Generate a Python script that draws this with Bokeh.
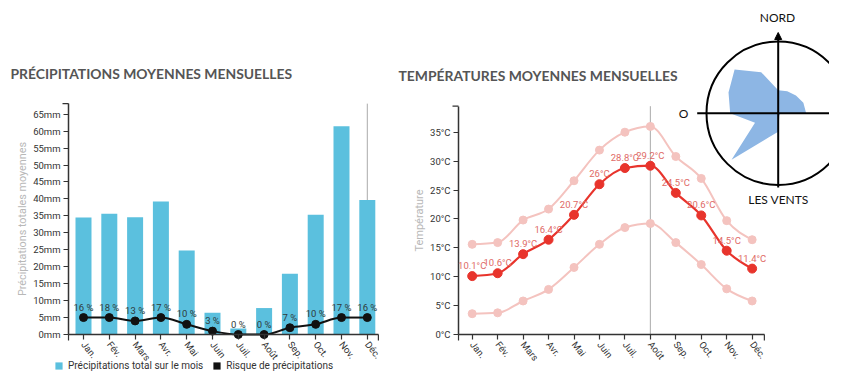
import math
from bokeh.plotting import figure
from bokeh.models import (Range1d, FixedTicker, ColumnDataSource, LabelSet, Label,
                          Legend, LegendItem, Arrow, NormalHead, LinearAxis)
from bokeh.embed import file_html
from bokeh.resources import INLINE
from bokeh.core.properties import value

# ---------------- data ----------------
months = ["Jan.", "Fév.", "Mars", "Avr.", "Mai", "Juin", "Juil.", "Août", "Sep.", "Oct.", "Nov.", "Déc."]
precip_mm = [34.5, 35.6, 34.6, 39.2, 24.8, 6.4, 1.8, 7.8, 17.9, 35.3, 61.4, 39.7]
risk_days = [5, 5, 4, 5, 3, 1, 0, 0, 2, 3, 5, 5]
risk_pct = [16, 18, 13, 17, 10, 3, 0, 0, 7, 10, 17, 16]
precip_ticks = [0, 5, 10, 15, 20, 25, 30, 35, 40, 45, 50, 55, 60, 65]

temp_mean = [10.1, 10.6, 13.9, 16.4, 20.7, 26.0, 28.8, 29.2, 24.5, 20.6, 14.5, 11.4]
temp_max = [15.6, 15.9, 19.8, 21.7, 26.6, 31.9, 35.0, 36.0, 30.8, 27.0, 19.7, 16.4]
temp_min = [3.6, 3.75, 5.8, 7.8, 11.6, 15.6, 18.5, 19.2, 15.9, 12.1, 7.9, 5.8]
temp_ticks = [0, 5, 10, 15, 20, 25, 30, 35]

wind_dirs = ["N", "NNE", "NE", "ENE", "E", "ESE", "SE", "SSE",
             "S", "SSW", "SW", "WSW", "W", "WNW", "NW", "NNW"]
wind_pct = [32, 33, 35, 38, 39, 3, 3, 4, 26, 37, 92, 35, 67, 75, 86, 62]

# ---------------- helpers ----------------
def monotone_bezier(xs, ys):
    """control points of d3.curveMonotoneX through the series points"""
    n = len(xs)
    h = [xs[i + 1] - xs[i] for i in range(n - 1)]
    s = [(ys[i + 1] - ys[i]) / h[i] for i in range(n - 1)]
    sgn = lambda v: -1 if v < 0 else 1
    t = [0.0] * n
    for i in range(1, n - 1):
        h0, h1, s0, s1 = h[i - 1], h[i], s[i - 1], s[i]
        p = (s0 * h1 + s1 * h0) / (h0 + h1)
        t[i] = (sgn(s0) + sgn(s1)) * min(abs(s0), abs(s1), 0.5 * abs(p))
    t[0] = (3 * s[0] - t[1]) / 2
    t[-1] = (3 * s[-1] - t[-2]) / 2
    d = dict(x0=[], y0=[], x1=[], y1=[], cx0=[], cy0=[], cx1=[], cy1=[])
    for i in range(n - 1):
        d["x0"].append(xs[i]); d["y0"].append(ys[i])
        d["x1"].append(xs[i + 1]); d["y1"].append(ys[i + 1])
        d["cx0"].append(xs[i] + h[i] / 3); d["cy0"].append(ys[i] + t[i] * h[i] / 3)
        d["cx1"].append(xs[i + 1] - h[i] / 3); d["cy1"].append(ys[i + 1] - t[i + 1] * h[i] / 3)
    return ColumnDataSource(d)

W, H = 829, 371
def xr(origin_px, px_per_unit):
    return Range1d((0 - origin_px) / px_per_unit, (W - origin_px) / px_per_unit)
def yr(origin_px, px_per_unit):
    return Range1d((origin_px - H) / px_per_unit, origin_px / px_per_unit)

idx = list(range(len(months)))
TICK_FONT = "Roboto"
TITLE_FONT = "Lato"
AX = "#333333"

p = figure(width=W, height=H, output_backend="svg", toolbar_location=None,
           x_range=Range1d(0, W), y_range=Range1d(H, 0),
           x_axis_location=None, y_axis_location=None,
           min_border=0, min_border_left=0, min_border_right=0,
           min_border_top=0, min_border_bottom=0)
p.outline_line_color = None
p.grid.visible = False

# scales (pixel origin, pixels per unit) of each chart
P_X0, P_XS, P_Y0, P_YS = 83, 25.8, 334, 3.39
T_X0, T_XS, T_Y0, T_YS = 471.7, 25.45, 334, 5.78
p.extra_x_ranges = {"prec_x": xr(P_X0, P_XS), "temp_x": xr(T_X0, T_XS)}
p.extra_y_ranges = {"prec_y": yr(P_Y0, P_YS), "temp_y": yr(T_Y0, T_YS)}
RK = 100 / 71.7      # wind rose: circle radius = 100 %
RCX, RCY = 777.7, 112.7
p.extra_x_ranges["rx"] = Range1d(-RCX * RK, (W - RCX) * RK)
p.extra_y_ranges["ry"] = Range1d(-(H - RCY) * RK, RCY * RK)

def make_axis(xn, yn, side, loc, bounds, ticks, labels, axis_label=None, label_size="10px"):
    ax = LinearAxis(x_range_name=xn, y_range_name=yn, fixed_location=loc, bounds=bounds,
                    ticker=FixedTicker(ticks=ticks),
                    major_label_overrides={t: l for t, l in zip(ticks, labels)})
    ax.axis_line_color = AX
    ax.axis_line_width = 1.5
    ax.major_tick_line_color = AX
    ax.major_tick_line_width = 1.2
    ax.major_tick_out = 5
    ax.major_tick_in = 0
    ax.minor_tick_line_color = None
    ax.major_label_text_font = TICK_FONT
    ax.major_label_text_font_size = "9.5px"
    ax.major_label_text_color = AX
    ax.major_label_standoff = 3
    if side == "below":
        ax.major_label_orientation = -0.9
    if axis_label:
        ax.axis_label = axis_label
        ax.axis_label_text_font = TICK_FONT
        ax.axis_label_text_font_size = label_size
        ax.axis_label_text_font_style = "normal"
        ax.axis_label_text_color = "#b8b8b8"
        ax.axis_label_standoff = 1
    p.add_layout(ax, side)
    return ax

def outer_ticks(xn, yn, xb, yb, xs, ys):
    """d3-style end ticks of the two axes of a chart"""
    tl = 6
    p.segment(x0=[xb[0], xb[0], xb[1]], y0=[yb[1], yb[0], yb[0]],
              x1=[xb[0] - tl / xs, xb[0], xb[1]], y1=[yb[1], yb[0] - tl / ys, yb[0] - tl / ys],
              line_color=AX, line_width=1.2, x_range_name=xn, y_range_name=yn)

# ================= precipitation chart =================
PX, PY = dict(x_range_name="prec_x"), dict(y_range_name="prec_y")
P_XB, P_YB = (-0.581, 11.43), (0, 68.1)
make_axis("prec_x", "prec_y", "left", P_XB[0], P_YB, precip_ticks,
          [f"{v}mm" for v in precip_ticks], "Précipitations totales moyennes", "10.8px")
make_axis("prec_x", "prec_y", "below", 0, P_XB, idx, months)
outer_ticks("prec_x", "prec_y", P_XB, P_YB, P_XS, P_YS)

p.segment(x0=[11], y0=[0], x1=[11], y1=[P_YB[1]], line_color="#aaaaaa", line_width=1, **PX, **PY)
bars = p.vbar(x=idx, top=precip_mm, width=0.62, fill_color="#5bc0de", line_color=None, **PX, **PY)
p.bezier(x0="x0", y0="y0", x1="x1", y1="y1", cx0="cx0", cy0="cy0", cx1="cx1", cy1="cy1",
         source=monotone_bezier(idx, risk_days), line_color="#111111", line_width=2, **PX, **PY)
p.scatter(idx, risk_days, size=8, marker="circle", fill_color="#111111", line_color="#111111", **PX, **PY)
risk_src = ColumnDataSource(dict(x=idx, y=risk_days, t=[f"{r} %" for r in risk_pct]))
p.add_layout(LabelSet(x="x", y="y", text="t", source=risk_src, y_offset=5,
                      text_align="center", text_baseline="bottom",
                      text_font=value(TICK_FONT), text_font_size=value("9.5px"),
                      text_color="#2f3a3a", **PX, **PY))
# zero-width key renderer: gives the legend its black square
risk_key = p.vbar(x=idx, top=risk_days, width=0, fill_color="#111111", line_color=None, **PX, **PY)
legend = Legend(items=[LegendItem(label="Précipitations total sur le mois", renderers=[bars]),
                       LegendItem(label="Risque de précipitations", renderers=[risk_key])],
                orientation="horizontal", location=(54, 0), glyph_width=9, glyph_height=9,
                label_height=10, label_text_font=TICK_FONT, label_text_font_size="10px",
                label_text_color="#333333", label_standoff=5, spacing=9, padding=0, margin=0,
                border_line_color=None, background_fill_alpha=0)
p.add_layout(legend)
p.add_layout(Label(x=10, y=73, text="PRÉCIPITATIONS MOYENNES MENSUELLES", text_align="left",
                   text_baseline="middle", text_font=TITLE_FONT, text_font_size="13.9px",
                   text_font_style="bold", text_color="#555555"))

# ================= temperature chart =================
TX, TY = dict(x_range_name="temp_x"), dict(y_range_name="temp_y")
T_XB, T_YB = (-0.538, 11.48), (0, 39.5)
make_axis("temp_x", "temp_y", "left", T_XB[0], T_YB, temp_ticks,
          [f"{v}°C" for v in temp_ticks], "Température", "11px")
make_axis("temp_x", "temp_y", "below", 0, T_XB, idx, months)
outer_ticks("temp_x", "temp_y", T_XB, T_YB, T_XS, T_YS)

p.segment(x0=[7], y0=[0], x1=[7], y1=[T_YB[1]], line_color="#aaaaaa", line_width=1, **TX, **TY)
LIGHT = "#f4c3bf"
for series in (temp_max, temp_min):
    p.bezier(x0="x0", y0="y0", x1="x1", y1="y1", cx0="cx0", cy0="cy0", cx1="cx1", cy1="cy1",
             source=monotone_bezier(idx, series), line_color=LIGHT, line_width=2, **TX, **TY)
    p.scatter(idx, series, size=8, marker="circle", fill_color=LIGHT, line_color=LIGHT, **TX, **TY)
RED = "#e8342c"
p.bezier(x0="x0", y0="y0", x1="x1", y1="y1", cx0="cx0", cy0="cy0", cx1="cx1", cy1="cy1",
         source=monotone_bezier(idx, temp_mean), line_color=RED, line_width=2.2, **TX, **TY)
p.scatter(idx, temp_mean, size=9, marker="circle", fill_color=RED, line_color=RED, **TX, **TY)
t_src = ColumnDataSource(dict(x=idx, y=temp_mean, t=[f"{v:g}°C" for v in temp_mean]))
p.add_layout(LabelSet(x="x", y="y", text="t", source=t_src, y_offset=5,
                      text_align="center", text_baseline="bottom",
                      text_font=value(TICK_FONT), text_font_size=value("9.5px"),
                      text_color="#e06a66", **TX, **TY))
p.add_layout(Label(x=398, y=75, text="TEMPÉRATURES MOYENNES MENSUELLES", text_align="left",
                   text_baseline="middle", text_font=TITLE_FONT, text_font_size="13.9px",
                   text_font_style="bold", text_color="#555555"))

# ================= wind rose =================
RX, RY = dict(x_range_name="rx"), dict(y_range_name="ry")
ang = [i * 2 * math.pi / len(wind_dirs) for i in range(len(wind_dirs))]
wx = [r * math.sin(a) for r, a in zip(wind_pct, ang)]
wy = [r * math.cos(a) for r, a in zip(wind_pct, ang)]
p.patch(wx, wy, fill_color="#8db6e4", line_color=None, **RX, **RY)
p.ellipse(x=[0], y=[0], width=200, height=200, fill_color=None, line_color="black",
          line_width=2, **RX, **RY)
p.segment(x0=[(696.7 - RCX) * RK], y0=[0], x1=[(W - RCX) * RK], y1=[0], line_color="black",
          line_width=2, **RX, **RY)
p.add_layout(Arrow(end=NormalHead(size=7, fill_color="black", line_color="black"),
                   x_start=0, y_start=-(187 - RCY) * RK, x_end=0, y_end=(RCY - 32) * RK,
                   line_color="black", line_width=2, **RX, **RY))
for txt, x, y in (("NORD", 777, 17), ("LES VENTS", 778, 199), ("O", 683, 113)):
    p.add_layout(Label(x=x, y=y, text=txt, text_align="center", text_baseline="middle",
                       text_font="Lato", text_font_size="12px", text_color="#111111"))

open("out.html", "w").write(file_html(p, INLINE))
